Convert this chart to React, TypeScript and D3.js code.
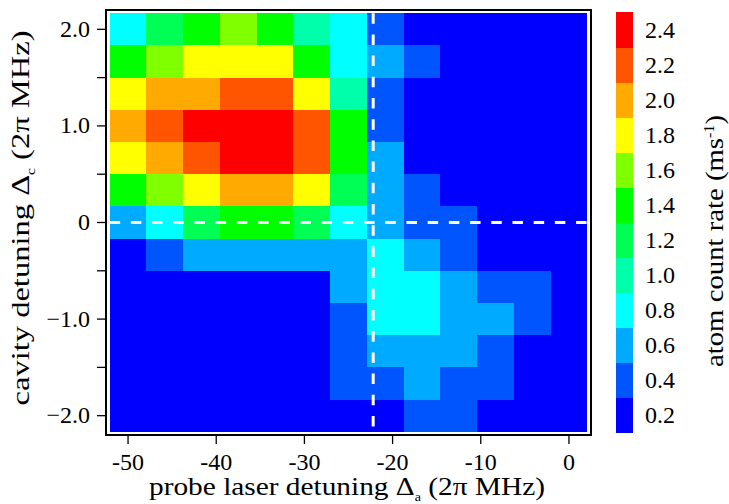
import React from "react";
import * as d3 from "d3";

// probe laser detuning (2π MHz), column centres
const probeDetuning = [-50, -45.83, -41.67, -37.5, -33.33, -29.17, -25, -20.83, -16.67, -12.5, -8.33, -4.17, 0];
// cavity detuning (2π MHz), row centres, top to bottom
const cavityDetuning = [2.0, 1.667, 1.333, 1.0, 0.667, 0.333, 0, -0.333, -0.667, -1.0, -1.333, -1.667, -2.0];

// atom count rate (ms^-1), one row per cavity detuning
const rateRows = [
  [0.8, 1.2, 1.4, 1.6, 1.4, 1.0, 0.8, 0.4, 0.2, 0.2, 0.2, 0.2, 0.2],
  [1.4, 1.6, 1.8, 1.8, 1.8, 1.4, 0.8, 0.6, 0.4, 0.2, 0.2, 0.2, 0.2],
  [1.8, 2.0, 2.0, 2.2, 2.2, 1.8, 1.0, 0.4, 0.2, 0.2, 0.2, 0.2, 0.2],
  [2.0, 2.2, 2.4, 2.4, 2.4, 2.2, 1.4, 0.4, 0.2, 0.2, 0.2, 0.2, 0.2],
  [1.8, 2.0, 2.2, 2.4, 2.4, 2.2, 1.4, 0.6, 0.2, 0.2, 0.2, 0.2, 0.2],
  [1.4, 1.6, 1.8, 2.0, 2.0, 1.8, 1.2, 0.6, 0.4, 0.2, 0.2, 0.2, 0.2],
  [0.6, 0.8, 1.2, 1.4, 1.4, 1.2, 0.8, 0.6, 0.4, 0.4, 0.2, 0.2, 0.2],
  [0.2, 0.4, 0.6, 0.6, 0.6, 0.6, 0.6, 0.8, 0.6, 0.4, 0.2, 0.2, 0.2],
  [0.2, 0.2, 0.2, 0.2, 0.2, 0.2, 0.6, 0.8, 0.8, 0.6, 0.4, 0.4, 0.2],
  [0.2, 0.2, 0.2, 0.2, 0.2, 0.2, 0.4, 0.8, 0.8, 0.6, 0.6, 0.4, 0.2],
  [0.2, 0.2, 0.2, 0.2, 0.2, 0.2, 0.4, 0.6, 0.6, 0.6, 0.4, 0.2, 0.2],
  [0.2, 0.2, 0.2, 0.2, 0.2, 0.2, 0.4, 0.4, 0.6, 0.4, 0.4, 0.2, 0.2],
  [0.2, 0.2, 0.2, 0.2, 0.2, 0.2, 0.2, 0.2, 0.4, 0.4, 0.2, 0.2, 0.2],
];

const colorLevels = [0.2, 0.4, 0.6, 0.8, 1.0, 1.2, 1.4, 1.6, 1.8, 2.0, 2.2, 2.4];
const levelColors = [
  "#0000ff", "#0055ff", "#00aaff", "#00ffff", "#00ffaa", "#00ff55",
  "#00ff00", "#80ff00", "#ffff00", "#ffaa00", "#ff5500", "#ff0000",
];

const xTicks = [-50, -40, -30, -20, -10, 0];
const yTicks = [-2, -1.5, -1, -0.5, 0, 0.5, 1, 1.5, 2];
const yLabelTicks = [-2, -1, 0, 1, 2];

const markerProbe = -22.2;
const markerCavity = 0;

const FONT = "Liberation Serif";

export default function App() {
  const frame = { x0: 106, x1: 591, y0: 10, y1: 435 };
  const x = d3.scaleLinear().domain([-52.5, 2.5]).range([frame.x0, frame.x1]);
  const y = d3.scaleLinear().domain([-2.2, 2.2]).range([frame.y1, frame.y0]);
  const color = d3.scaleQuantize<string>().domain([0.1, 2.5]).range(levelColors);

  const dx = (probeDetuning[probeDetuning.length - 1] - probeDetuning[0]) / (probeDetuning.length - 1);
  const dy = (cavityDetuning[0] - cavityDetuning[cavityDetuning.length - 1]) / (cavityDetuning.length - 1);

  const cells: { key: string; x: number; y: number; w: number; h: number; fill: string }[] = [];
  rateRows.forEach((row, ri) => {
    row.forEach((v, ci) => {
      const cx = probeDetuning[ci];
      const cy = cavityDetuning[ri];
      const xa = Math.round(x(cx - dx / 2));
      const xb = Math.round(x(cx + dx / 2));
      const ya = Math.round(y(cy + dy / 2));
      const yb = Math.round(y(cy - dy / 2));
      cells.push({ key: `${ri}-${ci}`, x: xa, y: ya, w: xb - xa, h: yb - ya, fill: color(v) });
    });
  });

  const xMin = probeDetuning[0] - dx / 2;
  const xMax = probeDetuning[probeDetuning.length - 1] + dx / 2;
  const yMax = cavityDetuning[0] + dy / 2;
  const yMin = cavityDetuning[cavityDetuning.length - 1] - dy / 2;

  const cb = d3
    .scaleBand<number>()
    .domain([...colorLevels].reverse())
    .range([12, 432.7]);
  const cbX = 616;
  const cbW = 17;

  const fmtY = (v: number) => (v === 0 ? "0" : d3.format(".1f")(v));

  return (
    <svg
      width={729}
      height={504}
      style={{ position: "absolute", left: 0, top: 0, background: "#fff" }}
      fontFamily={FONT}
    >
      <rect x={0} y={0} width={729} height={504} fill="#fff" />
      <rect x={frame.x0} y={frame.y0} width={frame.x1 - frame.x0} height={frame.y1 - frame.y0} fill="#fff" />
      <g shapeRendering="crispEdges">
        {cells.map((c) => (
          <rect key={c.key} x={c.x} y={c.y} width={c.w} height={c.h} fill={c.fill} />
        ))}
      </g>
      <line
        x1={x(markerProbe)} x2={x(markerProbe)} y1={y(yMax)} y2={y(yMin)}
        stroke="#fff" strokeWidth={3} strokeDasharray="10.5 10.7"
      />
      <line
        x1={x(xMin)} x2={x(xMax)} y1={y(markerCavity)} y2={y(markerCavity)}
        stroke="#fff" strokeWidth={3} strokeDasharray="10.5 10.7"
      />
      <rect
        x={frame.x0} y={frame.y0} width={frame.x1 - frame.x0} height={frame.y1 - frame.y0}
        fill="none" stroke="#000" strokeWidth={2}
      />
      {/* x axis */}
      {xTicks.map((t) => (
        <g key={`xt${t}`}>
          <line x1={x(t)} x2={x(t)} y1={frame.y1} y2={frame.y1 + 9} stroke="#000" strokeWidth={1.3} />
          <text x={x(t)} y={470} textAnchor="middle" fontFamily={FONT} fontSize={24} fill="#000">
            {String(t)}
          </text>
        </g>
      ))}
      {/* y axis */}
      {yTicks.map((t) => (
        <line key={`yt${t}`} x1={frame.x0 - 9} x2={frame.x0} y1={y(t)} y2={y(t)} stroke="#000" strokeWidth={1.3} />
      ))}
      {yLabelTicks.map((t) => (
        <text key={`yl${t}`} x={90} y={y(t) + 7.5} textAnchor="end" fontFamily={FONT} fontSize={24} fill="#000">
          {fmtY(t)}
        </text>
      ))}
      {/* axis titles */}
      <text
        x={347} y={495} textAnchor="middle" fontFamily={FONT} fontSize={25} fill="#000"
        textLength={396} lengthAdjust="spacingAndGlyphs"
      >
        probe laser detuning Δ<tspan fontSize={12} dy={6}>a</tspan>
        <tspan dy={-6}> (2π MHz)</tspan>
      </text>
      <text
        transform={`translate(29, 218) rotate(-90)`} textAnchor="middle" fontFamily={FONT} fontSize={25} fill="#000"
        textLength={375} lengthAdjust="spacingAndGlyphs"
      >
        cavity detuning Δ<tspan fontSize={12} dy={6}>c</tspan>
        <tspan dy={-6}> (2π MHz)</tspan>
      </text>
      {/* colorbar */}
      <g shapeRendering="crispEdges">
        {colorLevels.map((lv, i) => (
          <rect key={`cbr${lv}`} x={cbX} y={cb(lv)!} width={cbW} height={cb.bandwidth() + 0.6} fill={levelColors[i]} />
        ))}
      </g>
      {colorLevels.map((lv) => (
        <text
          key={`cbt${lv}`}
          x={645} y={cb(lv)! + cb.bandwidth() / 2 + 8} fontFamily={FONT} fontSize={24} fill="#000"
        >
          {d3.format(".1f")(lv)}
        </text>
      ))}
      <text
        transform={`translate(723, 241) rotate(-90)`} textAnchor="middle" fontFamily={FONT} fontSize={25} fill="#000"
        textLength={252} lengthAdjust="spacingAndGlyphs"
      >
        atom count rate (ms<tspan fontSize={14} dy={-9}>-1</tspan>
        <tspan dy={9}>)</tspan>
      </text>
    </svg>
  );
}
